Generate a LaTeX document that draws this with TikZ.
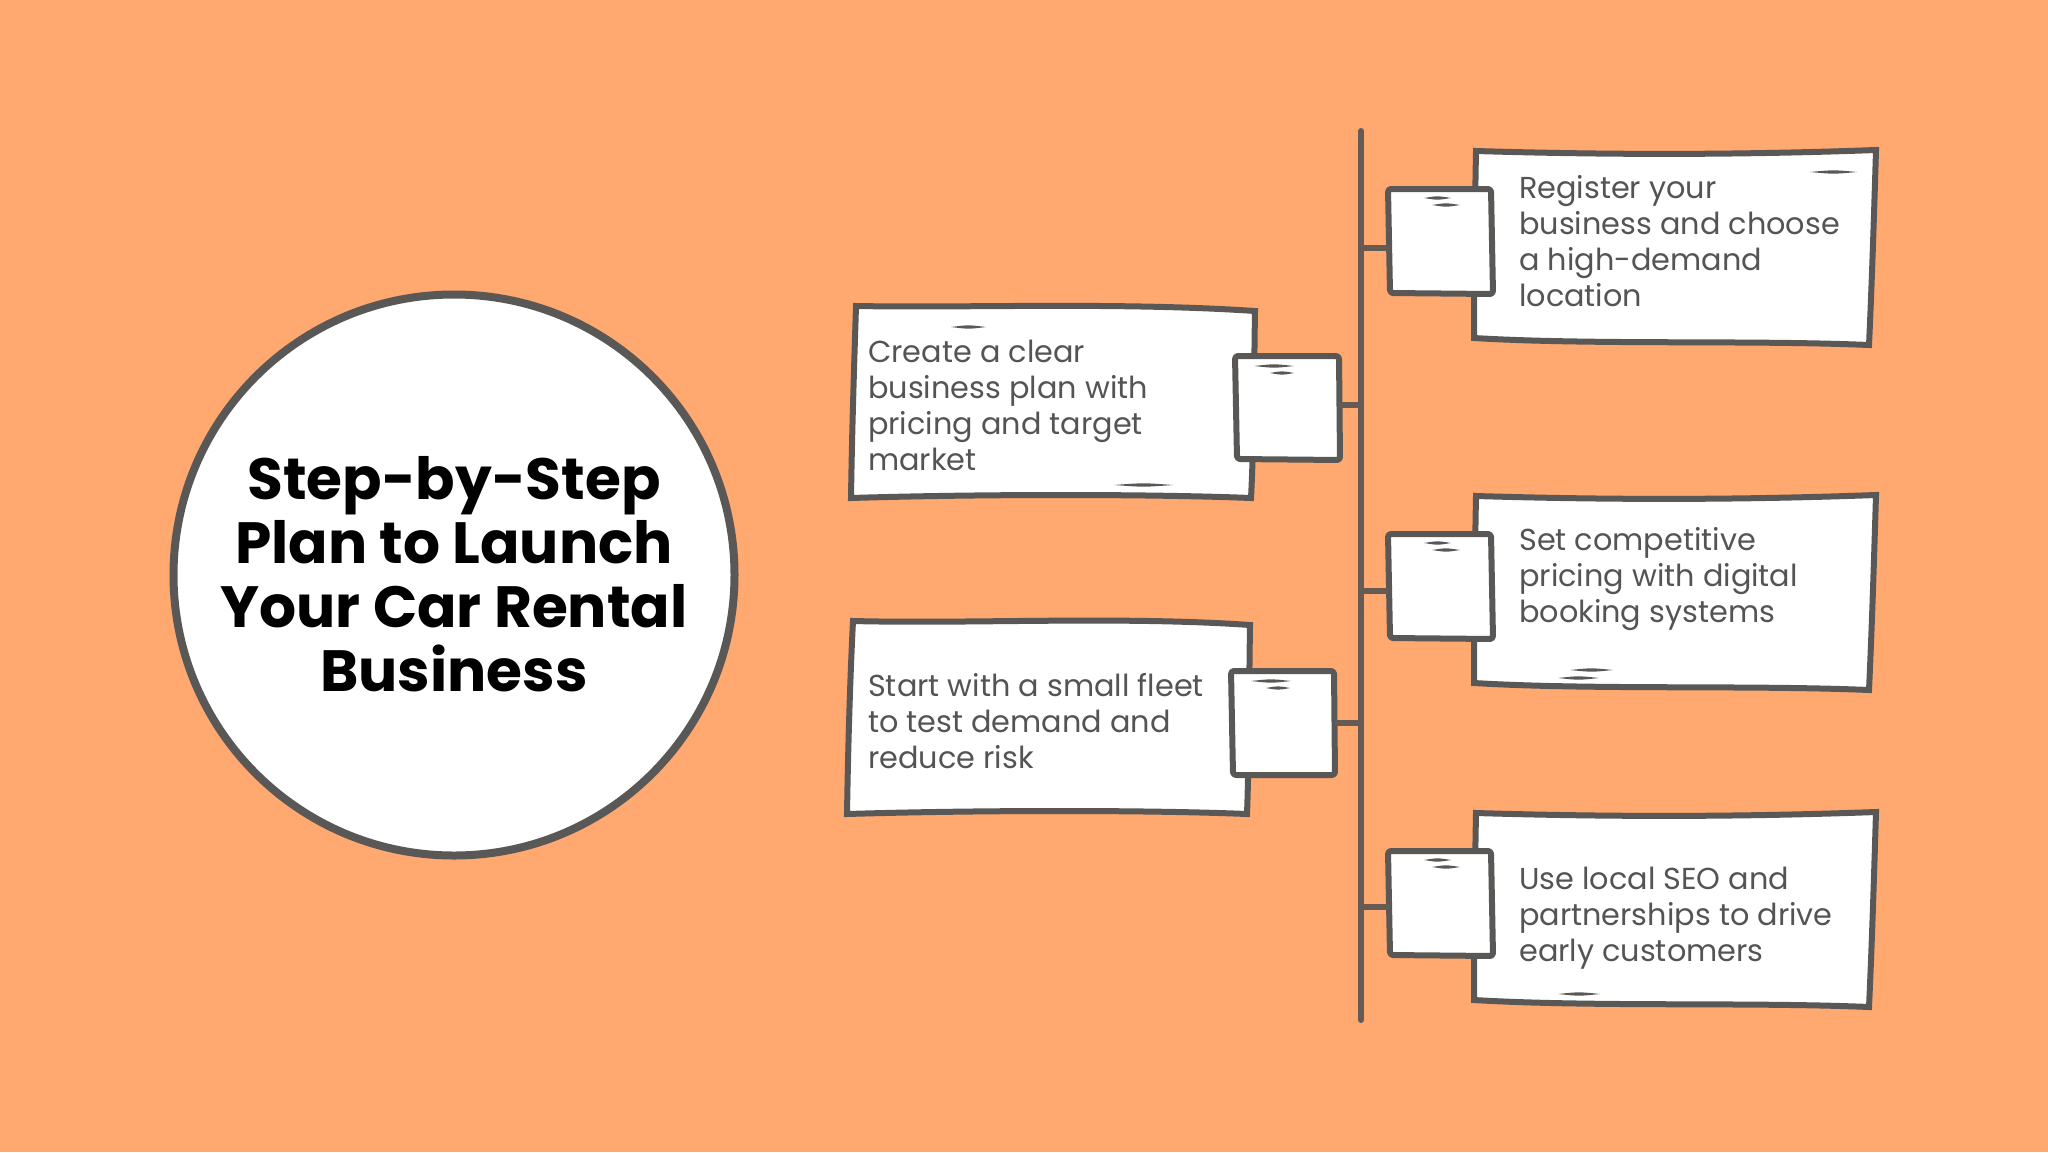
\documentclass[tikz,border=0pt]{standalone}
\usepackage{fontspec}
\setmainfont{Poppins}
\definecolor{bgc}{HTML}{FFA870}
\definecolor{ink}{HTML}{595857}
\definecolor{stem}{HTML}{665A55}
\definecolor{txt}{HTML}{545454}
\tikzset{
  x=1pt,y=-1pt,
  outline/.style={draw=ink,line width=6pt,fill=white,line join=miter},
  squarebox/.style={draw=ink,line width=6pt,fill=white,line join=round,rounded corners=3pt},
  stemline/.style={draw=stem,line width=6pt},
  anchorbox/.style={inner sep=0pt,outer sep=0pt,minimum width=104pt,minimum height=104pt},
  body/.style={anchor=base west,inner sep=0pt,align=left,text=txt,font=\fontsize{30.3}{36}\selectfont},
}
\newcommand{\scrib}[3]{\fill[ink] (#1,#3) .. controls ({(#1+#2)/2},{#3-2.2}) .. (#2,#3) .. controls ({(#1+#2)/2},{#3+2.2}) .. (#1,#3);}
\newcommand{\rightcard}[5]{%
 \begin{scope}[yshift=-#2pt]
  \path[outline] (1476,151) .. controls (1610,155) and (1740,155) .. (1876,150)
     .. controls (1874,215) and (1872,280) .. (1869,345)
     .. controls (1750,340) and (1590,345) .. (1474,338)
     .. controls (1474,290) and (1475,200) .. (1476,151) -- cycle;
  \path[squarebox] (1440,189) -- (1491,189) -- (1493,294)
     -- (1390,293) -- (1388,189) -- cycle;
  \scrib{1424}{1451}{198}\scrib{1432}{1460}{205}
  \node[anchorbox] (#1) at (1441,{#3}) {};
 \end{scope}
 \node[body] (#1t) at (1519,#4) {#5};
}
\begin{document}
\begin{tikzpicture}
\useasboundingbox (0,0) rectangle (2048,1152);
\fill[bgc] (0,0) rectangle (2048,1152);

% main circle
\node[circle,draw=ink,line width=8pt,fill=white,minimum size=561pt,inner sep=0pt,outer sep=0pt] (hub) at (454,575) {};
\node[align=center,font=\fontsize{58.2}{64}\selectfont\bfseries,text=black] (title) at (454,574)
  {Step-by-Step\\Plan to Launch\\Your Car Rental\\Business};

% spine
\coordinate (top) at (1361,131);
\coordinate (bot) at (1361,1020);

% right cards
\rightcard{r1}{0}{242}{306}{Register your\\business and choose\\a high-demand\\location}
\rightcard{r2}{345}{242}{622}{Set competitive\\pricing with digital\\booking systems}
\rightcard{r3}{662}{242}{961}{Use local SEO and\\partnerships to drive\\early customers}
\scrib{1810}{1857}{172}
\scrib{1570}{1613}{670}\scrib{1558}{1599}{678}
\scrib{1558}{1600}{994}

% left card 1
\path[outline] (856,306) .. controls (970,308) and (1120,302) .. (1255,311)
   .. controls (1254,370) and (1254,440) .. (1251,498)
   .. controls (1150,494) and (980,494) .. (851,498)
   .. controls (852,430) and (854,370) .. (856,306) -- cycle;
\path[squarebox] (1287,356) -- (1339,356) -- (1340,460)
   -- (1237,459) -- (1235,356) -- cycle;
\node[anchorbox] (l1) at (1287,408) {};
\scrib{951}{986}{327}\scrib{1114}{1173}{485}
\scrib{1254}{1294}{366}\scrib{1270}{1294}{373}
\node[body] (l1t) at (868,470) {Create a clear\\business plan with\\pricing and target\\market};

% left card 2
\path[outline] (853,621) .. controls (970,624) and (1120,616) .. (1250,625)
   .. controls (1249,690) and (1249,760) .. (1247,814)
   .. controls (1150,810) and (980,810) .. (847,814)
   .. controls (848,750) and (850,680) .. (853,621) -- cycle;
\path[squarebox] (1283,671) -- (1334,671) -- (1335,775)
   -- (1233,775) -- (1231,671) -- cycle;
\node[anchorbox] (l2) at (1283,723) {};
\scrib{1251}{1291}{681}\scrib{1266}{1290}{688}
\node[body] (l2t) at (868,768) {Start with a small fleet\\to test demand and\\reduce risk};

% connectors
\draw[stemline,line cap=round] (top) -- (bot);
\draw[stemline] (top |- 0,248) -- (r1.west |- 0,248);
\draw[stemline] (top |- 0,591) -- (r2.west |- 0,591);
\draw[stemline] (top |- 0,907) -- (r3.west |- 0,907);
\draw[stemline] (top |- 0,405) -- (l1.east |- 0,405);
\draw[stemline] (top |- 0,723) -- (l2.east |- 0,723);
\end{tikzpicture}
\end{document}
